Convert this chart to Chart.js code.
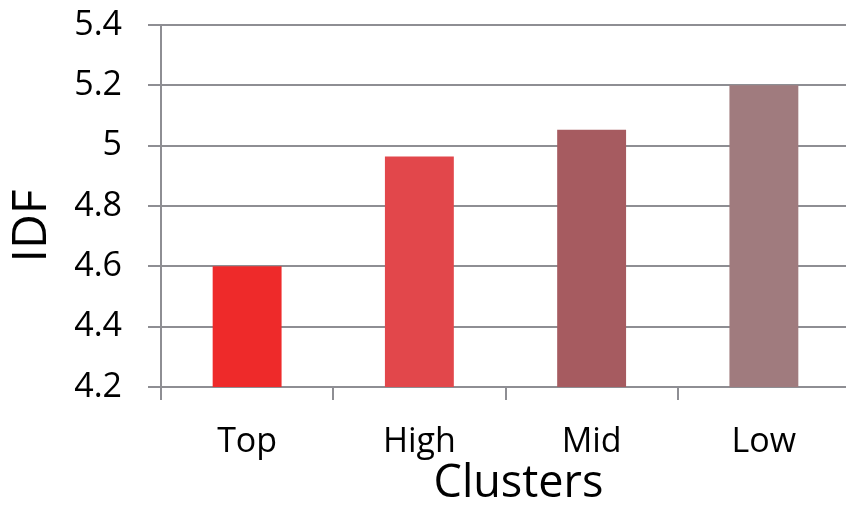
<!DOCTYPE html>
<html>
<head>
<meta charset="utf-8">
<script src="https://cdn.jsdelivr.net/npm/chart.js@4/dist/chart.umd.min.js"></script>
<style>
  html, body { margin: 0; padding: 0; background: #fff; overflow: hidden; }
  canvas { display: block; }
</style>
</head>
<body>
<canvas id="chart" width="850" height="511"></canvas>
<script>
const clusters = ["Top", "High", "Mid", "Low"]
const idf = [4.6, 4.964, 5.053, 5.2]
const barColors = ["#ee2a2a", "#e2474b", "#a65b60", "#a07b7e"]
const yMin = 4.2
const yMax = 5.4
const yStep = 0.2

const gridGrey = "#8e8e93"
const fontFamily = "'Open Sans', sans-serif"

// axis titles sit a little off-centre, so draw them ourselves
const axisTitles = {
  id: "axisTitles",
  afterDraw(chart) {
    const { ctx, chartArea } = chart
    ctx.save()
    ctx.fillStyle = "#000"
    ctx.textAlign = "center"
    ctx.textBaseline = "middle"

    ctx.font = `45px ${fontFamily}`
    ctx.fillText("Clusters", (chartArea.left + chartArea.right) / 2 + 13, chartArea.bottom + 97)

    ctx.translate(32, (chartArea.top + chartArea.bottom) / 2 + 20)
    ctx.rotate(-Math.PI / 2)
    ctx.font = `48px ${fontFamily}`
    ctx.fillText("IDF", 0, 0)
    ctx.restore()
  }
}

new Chart(document.getElementById("chart"), {
  type: "bar",
  data: {
    labels: clusters,
    datasets: [{
      data: idf,
      backgroundColor: barColors,
      borderWidth: 0,
      barPercentage: 0.4,
      categoryPercentage: 1
    }]
  },
  options: {
    responsive: false,
    animation: false,
    devicePixelRatio: 1,
    layout: { padding: { top: 25, right: 0, bottom: 0, left: 0 } },
    plugins: {
      legend: { display: false },
      tooltip: { enabled: false }
    },
    scales: {
      x: {
        grid: {
          display: true,
          drawOnChartArea: false,
          drawTicks: true,
          tickLength: 13,
          color: gridGrey,
          lineWidth: 2
        },
        border: { display: true, color: gridGrey, width: 2 },
        ticks: {
          color: "#000",
          padding: 22,
          font: { family: fontFamily, size: 34 }
        },
        afterFit: scale => {
          scale.height = 124
          scale.paddingLeft = scale.paddingRight = 0
        }
      },
      y: {
        min: yMin,
        max: yMax,
        grid: {
          color: gridGrey,
          lineWidth: 2,
          tickLength: 13
        },
        border: { display: true, color: gridGrey, width: 2 },
        ticks: {
          stepSize: yStep,
          color: "#000",
          padding: 26,
          font: { family: fontFamily, size: 34 },
          callback: v => +v.toFixed(1)
        },
        afterFit: scale => {
          scale.width = 161
          scale.paddingTop = scale.paddingBottom = 0
        }
      }
    }
  },
  plugins: [axisTitles]
})
</script>
</body>
</html>
